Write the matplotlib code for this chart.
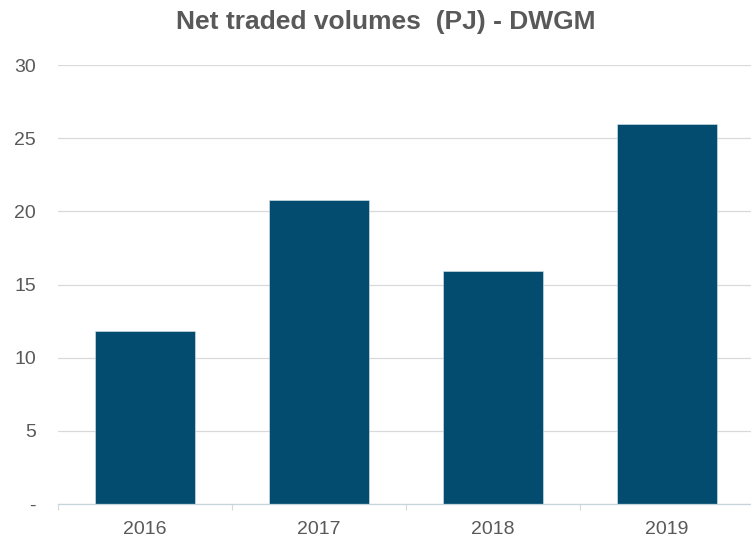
import matplotlib
matplotlib.use("Agg")
import matplotlib.pyplot as plt
import matplotlib.ticker as mticker
import numpy as np

# Data
years = ["2016", "2017", "2018", "2019"]
volumes_pj = [11.8, 20.8, 15.9, 26.0]
y_ticks = [0, 5, 10, 15, 20, 25, 30]
y_tick_labels = ["-", "5", "10", "15", "20", "25", "30"]

BAR_COLOR = "#034C70"
TEXT_GREY = "#595959"
GRID_GREY = "#D9D9D9"

plt.rcParams["font.family"] = ["Liberation Sans", "DejaVu Sans"]

fig = plt.figure(figsize=(7.51, 5.38), dpi=100)
ax = fig.add_axes([58 / 751, 34 / 538, 696 / 751, (504 - 65) / 538])

x = np.arange(len(years))
ax.bar(x, volumes_pj, width=0.575, color=BAR_COLOR, edgecolor="#dde6ec",
       linewidth=0.4, zorder=2)

ax.set_xlim(-0.5, len(years) - 0.5)
ax.set_ylim(0, 30)

ax.set_yticks(y_ticks)
ax.set_yticklabels(y_tick_labels)
ax.yaxis.grid(True, color=GRID_GREY, linewidth=0.9, zorder=0)
ax.set_axisbelow(True)
ax.tick_params(axis="y", length=0, pad=16, labelsize=14, labelcolor=TEXT_GREY)

ax.set_xticks(x)
ax.set_xticklabels(years)
ax.xaxis.set_minor_locator(mticker.FixedLocator(np.arange(-0.5, len(years), 1.0)))
ax.tick_params(axis="x", which="major", length=0, pad=12, labelsize=14,
               labelcolor=TEXT_GREY)
ax.tick_params(axis="x", which="minor", length=4.5, width=0.8, color=GRID_GREY)

for side in ("top", "right", "left"):
    ax.spines[side].set_visible(False)
ax.spines["bottom"].set_color("#C8D4DC")
ax.spines["bottom"].set_linewidth(0.9)
ax.spines["bottom"].set_zorder(3)

fig.text(386 / 751, 1 - 22 / 538, "Net traded volumes  (PJ) - DWGM",
         ha="center", va="center", fontsize=19, fontweight="bold", color=TEXT_GREY)

fig.savefig("out.png", dpi=100)
